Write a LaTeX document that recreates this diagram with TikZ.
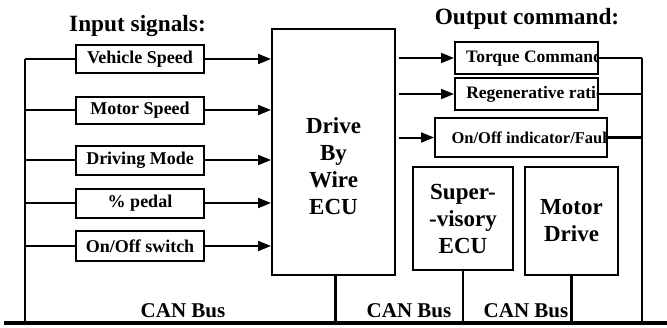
\documentclass[tikz,border=0pt]{standalone}
\usepackage{fontspec}
\setmainfont{Liberation Serif}
\usetikzlibrary{arrows.meta}
\begin{document}
\begin{tikzpicture}[x=1pt,y=-1pt,
  box/.style={draw, line width=2pt, inner sep=0pt, font=\bfseries\fontsize{18}{21}\selectfont},
  bigbox/.style={draw, line width=2pt, inner sep=0pt, align=center, font=\bfseries\fontsize{23}{27}\selectfont},
  wire/.style={line width=2.3pt},
  arr/.style={line width=2pt, -{Triangle[length=13pt,width=10pt]}},
  bus/.style={line width=3.2pt},
  title/.style={font=\bfseries\fontsize{23.3}{26}\selectfont, anchor=base},
  buslabel/.style={font=\bfseries\fontsize{21}{24}\selectfont}]
\useasboundingbox (0,0) rectangle (667,327);

% input boxes
\node[box, minimum width=128pt, minimum height=28pt] (vs) at (140,59) {Vehicle Speed};
\node[box, minimum width=128pt, minimum height=27pt] (ms) at (140,110) {Motor Speed};
\node[box, minimum width=128pt, minimum height=29pt] (dm) at (140,160) {Driving Mode};
\node[box, minimum width=128pt, minimum height=29pt] (pd) at (140,203) {\% pedal};
\node[box, minimum width=128pt, minimum height=30pt] (oo) at (140,246) {On/Off switch};

% ECU
\node[bigbox, minimum width=123pt, minimum height=246pt] (ecu) at (333.5,152) {};
\node[bigbox, draw=none] (ecut) at (333.5,166) {Drive\\By\\Wire\\ECU};

% output boxes (text clipped by the box)
\node[box, minimum width=143pt, minimum height=32pt,
  path picture={\node[anchor=west, inner sep=0pt, font=\bfseries\fontsize{17.5}{20}\selectfont]
    at ([xshift=7pt]path picture bounding box.west) {Torque Command};}] (tq) at (526.5,58) {};
\node[box, minimum width=143pt, minimum height=32pt,
  path picture={\node[anchor=west, inner sep=0pt, font=\bfseries\fontsize{17.5}{20}\selectfont]
    at ([xshift=8pt]path picture bounding box.west) {Regenerative ratio};}] (rg) at (526.5,94) {};
\node[box, minimum width=172pt, minimum height=39pt,
  path picture={\node[anchor=west, inner sep=0pt, font=\bfseries\fontsize{16.5}{19}\selectfont]
    at ([xshift=10pt]path picture bounding box.west) {On/Off indicator/Fault};}] (oi) at (521,137.5) {};

\node[bigbox, minimum width=100pt, minimum height=103pt] (sv) at (463,218.5) {Super-\\-visory\\ECU};
\node[bigbox, minimum width=93pt, minimum height=108pt] (md) at (571.5,221) {Motor\\Drive};

% titles
\node[title] (tin) at (137.5,31) {Input signals:};
\node[title] (tout) at (527,24) {Output command:};

% bus coordinates
\coordinate (busL) at (4,323);
\coordinate (busR) at (667,323);
\coordinate (lb) at (25,323);
\coordinate (rb) at (642,323);

\draw[bus] (busL) -- (busR);
\draw[wire] (lb |- vs.west) -- (lb);
\draw[wire] (rb |- tq.east) -- (rb);

\foreach \n in {vs,ms,dm,pd,oo}{
  \draw[wire] (\n.west) -- (\n.west -| lb);
  \draw[arr] (\n.east) -- (\n.east -| ecu.west);
}
\foreach \n in {tq,rg,oi}{
  \draw[arr] ([xshift=3pt]ecu.east |- \n.west) -- (\n.west);
  \draw[wire] (\n.east) -- (\n.east -| rb);
}
\draw[wire] ([xshift=2pt]ecu.south) -- ([xshift=2pt]ecu.south |- lb);
\draw[wire] (sv.south) -- (sv.south |- lb);
\draw[wire] (md.south) -- (md.south |- lb);

\node[buslabel] (c1) at (183,311) {CAN Bus};
\node[buslabel] (c2) at (409,311) {CAN Bus};
\node[buslabel] (c3) at (526,311) {CAN Bus};
\end{tikzpicture}
\end{document}
